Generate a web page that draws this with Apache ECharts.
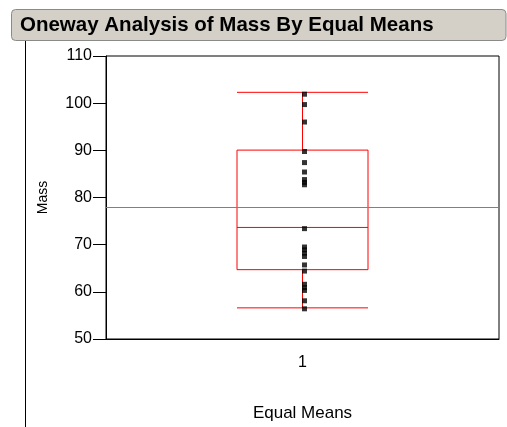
<!DOCTYPE html>
<html><head><meta charset="utf-8">
<script src="https://cdn.jsdelivr.net/npm/echarts@6/dist/echarts.min.js"></script>
<style>html,body{margin:0;padding:0;background:#fff}#c{width:507px;height:427px}</style>
</head><body><div id="c"></div>
<script>
var categories = ['1'];
var boxStats = [[56.6, 64.7, 73.65, 90.05, 102.3]];
var points = [101.9, 99.7, 96.0, 89.75, 87.4, 85.4, 83.8, 83.2, 82.7, 73.4, 69.5, 68.9, 68.2, 67.5, 65.7, 64.4, 61.6, 60.9, 60.3, 58.1, 56.4];
var grandMean = 78.0;
var yTicks = [50, 60, 70, 80, 90, 100, 110];

var chart = echarts.init(document.getElementById('c'));
chart.setOption({
  animation: false,
  textStyle: {fontFamily: 'Arial, Liberation Sans, sans-serif'},
  graphic: [
    {type: 'rect', shape: {x: 11.5, y: 9.5, width: 494.5, height: 31, r: 4}, style: {fill: '#d4d0c8', stroke: '#8a8a8a', lineWidth: 1}},
    {type: 'text', x: 20, y: 25.5, style: {text: 'Oneway Analysis of Mass By Equal Means', font: 'bold 20.5px Arial, Liberation Sans, sans-serif', fill: '#000', verticalAlign: 'middle'}},
    {type: 'line', shape: {x1: 25.5, y1: 41, x2: 25.5, y2: 427}, style: {stroke: '#000', lineWidth: 1}}
  ],
  grid: {left: 106, right: 8, top: 56, bottom: 87, show: true, borderColor: '#000', borderWidth: 1, backgroundColor: 'transparent'},
  xAxis: {
    type: 'category', data: categories,
    name: 'Equal Means', nameLocation: 'middle', nameGap: 66,
    nameTextStyle: {fontSize: 17, color: '#000'},
    axisLine: {lineStyle: {color: '#000'}},
    axisTick: {show: false},
    axisLabel: {fontSize: 16, color: '#000', margin: 16}
  },
  yAxis: {
    type: 'value', min: 50, max: 110, interval: 10,
    name: 'Mass', nameLocation: 'middle', nameGap: 56, nameRotate: 90,
    nameTextStyle: {fontSize: 14, color: '#000'},
    axisLine: {show: true, lineStyle: {color: '#000'}},
    axisTick: {show: true, length: 13, lineStyle: {color: '#000'}},
    axisLabel: {fontSize: 16, color: '#000', margin: 14,
      formatter: function (v) { return yTicks.indexOf(v) >= 0 ? String(v) : ''; }},
    splitLine: {show: false}
  },
  series: [
    {type: 'boxplot', data: boxStats, boxWidth: [131, 131],
     itemStyle: {color: 'transparent', borderColor: '#ff0000', borderWidth: 1},
     markLine: {silent: true, symbol: ['none', 'none'], label: {show: false},
       lineStyle: {color: '#808080', type: 'solid', width: 1},
       data: [{yAxis: grandMean}]}},
    {type: 'scatter', data: points.map(function (v) { return ['1', v]; }),
     symbol: 'rect', symbolSize: [5, 5], symbolOffset: [2, 0], itemStyle: {color: '#000'}}
  ]
});
</script></body></html>
